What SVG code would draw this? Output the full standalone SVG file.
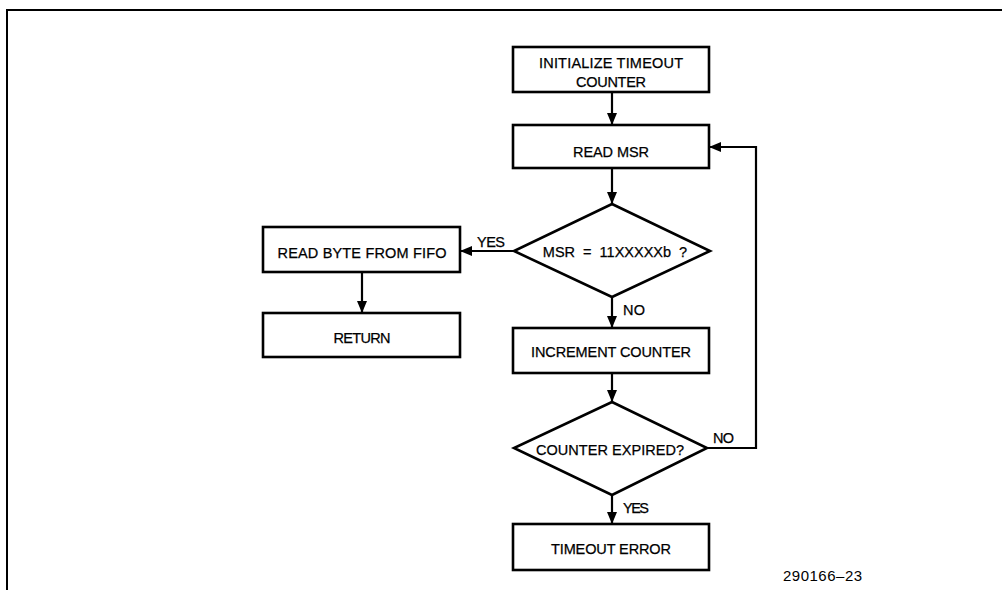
<svg xmlns="http://www.w3.org/2000/svg" width="1002" height="590" viewBox="0 0 1002 590">
<style>
.n{fill:#fff;stroke:#000;stroke-width:2.6}
.t{font-family:"Liberation Sans",Arial,sans-serif;font-size:14.5px;fill:#000;text-anchor:middle;stroke:#000;stroke-width:0.25}
.l{font-family:"Liberation Sans",Arial,sans-serif;font-size:14.5px;fill:#000;stroke:#000;stroke-width:0.25}
.c{fill:none;stroke:#000;stroke-width:2.2}
</style>
<defs>
<marker id="a" viewBox="0 0 12 10" refX="12" refY="5" markerWidth="12" markerHeight="10" markerUnits="userSpaceOnUse" orient="auto">
<path d="M0,0 L12,5 L0,10 Z" fill="#000"/>
</marker>
</defs>
<rect width="1002" height="590" fill="#fff"/>
<path d="M7,590 V10 H1002" fill="none" stroke="#000" stroke-width="2"/>
<g id="connectors">
<line class="c" x1="612" y1="92" x2="612" y2="125" marker-end="url(#a)"/>
<line class="c" x1="612" y1="168" x2="612" y2="204" marker-end="url(#a)"/>
<line class="c" x1="513" y1="251" x2="460" y2="251" marker-end="url(#a)"/>
<line class="c" x1="362" y1="272" x2="362" y2="313" marker-end="url(#a)"/>
<line class="c" x1="612" y1="297" x2="612" y2="328" marker-end="url(#a)"/>
<line class="c" x1="612" y1="373" x2="612" y2="402" marker-end="url(#a)"/>
<line class="c" x1="612" y1="495" x2="612" y2="524" marker-end="url(#a)"/>
<polyline class="c" points="708,448 756,448 756,147 709,147" marker-end="url(#a)"/>
<text class="l" x="477" y="247" textLength="28" lengthAdjust="spacing">YES</text>
<text class="l" x="623" y="315" textLength="22" lengthAdjust="spacing">NO</text>
<text class="l" x="713" y="443" textLength="21" lengthAdjust="spacing">NO</text>
<text class="l" x="623" y="513" textLength="26" lengthAdjust="spacing">YES</text>
</g>
<g id="init">
<rect class="n" x="513" y="47" width="196" height="45"/>
<text class="t" x="611" y="68" textLength="144" lengthAdjust="spacing">INITIALIZE TIMEOUT</text>
<text class="t" x="611" y="87" textLength="70" lengthAdjust="spacing">COUNTER</text>
</g>
<g id="readmsr">
<rect class="n" x="513" y="125" width="196" height="43"/>
<text class="t" x="611" y="157" textLength="76" lengthAdjust="spacing">READ MSR</text>
</g>
<g id="msrcheck">
<polygon class="n" points="612,204 710,251 612,297 514,251"/>
<text class="t" x="615" y="257" font-size="15" word-spacing="4">MSR = 11XXXXXb ?</text>
</g>
<g id="readbyte">
<rect class="n" x="263" y="227" width="197" height="45"/>
<text class="t" x="362" y="258" textLength="169" lengthAdjust="spacing">READ BYTE FROM FIFO</text>
</g>
<g id="return">
<rect class="n" x="263" y="313" width="197" height="44"/>
<text class="t" x="362" y="343" textLength="57" lengthAdjust="spacing">RETURN</text>
</g>
<g id="increment">
<rect class="n" x="513" y="328" width="196" height="45"/>
<text class="t" x="611" y="357" textLength="160" lengthAdjust="spacing">INCREMENT COUNTER</text>
</g>
<g id="expired">
<polygon class="n" points="612,402 707,448 612,495 514,448"/>
<text class="t" x="610" y="455" textLength="148" lengthAdjust="spacing">COUNTER EXPIRED?</text>
</g>
<g id="timeout">
<rect class="n" x="513" y="524" width="196" height="46"/>
<text class="t" x="611" y="554" textLength="120" lengthAdjust="spacing">TIMEOUT ERROR</text>
</g>
<text x="783" y="581" font-family="Liberation Sans,Arial,sans-serif" font-size="15" letter-spacing="0.5" fill="#000">290166–23</text>
</svg>
